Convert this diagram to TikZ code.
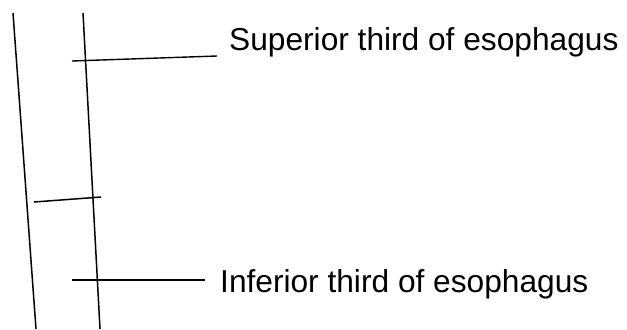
\documentclass[tikz,border=0pt]{standalone}
\usepackage{fontspec}
\setmainfont{Liberation Sans}
\usetikzlibrary{positioning}

\begin{document}
\begin{tikzpicture}[x=1bp, y=-1bp,
  wall/.style={line width=1.5bp},
  leader/.style={line width=1.4bp},
  label/.style={inner sep=0pt, anchor=base west, font=\fontsize{31.8}{38}\selectfont}]
  \useasboundingbox (0,0) rectangle (627,329);
  % esophagus walls
  \draw[wall] (13,13) -- (36,329);
  \draw[wall] (83,13) -- (100,329);
  \draw[wall] (34,202) -- (101,197);
  % labels
  \node[label] (sup) at (229,50) {Superior third of esophagus};
  \node[label] (inf) at (220,292) {Inferior third of esophagus};
  \coordinate (supstart) at (72,61);
  \coordinate (supend) at ([shift={(-12,6)}]sup.base west);
  \coordinate (infstart) at (72,280);
  \coordinate (infend) at ([shift={(-15,-12)}]inf.base west);
  \draw[leader] (supstart) -- (supend);
  \draw[leader] (infstart) -- (infend);
\end{tikzpicture}
\end{document}
